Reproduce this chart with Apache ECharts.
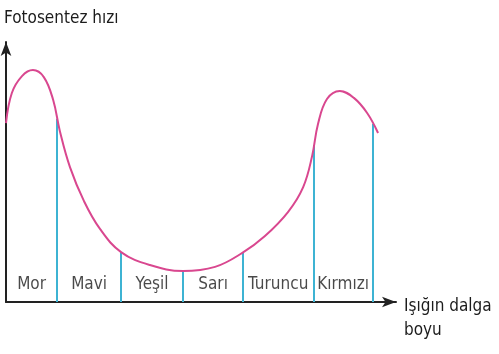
<!DOCTYPE html>
<html>
<head>
<meta charset="utf-8">
<script src="https://cdn.jsdelivr.net/npm/echarts@6/dist/echarts.min.js"></script>
<style>
	html, body { margin: 0; padding: 0; background: #fff; }
	#chart { width: 499px; height: 354px; }
</style>
</head>
<body>
<div id="chart"></div>
<script>
// curve (x: position along wavelength axis 0-100, y: rate 0-100)
const curveX = [0, 1.5, 4.1, 6.9, 9.7, 12.1, 13.8, 16.4, 20.0, 24.1, 29.5, 36.9, 45.4, 53.6, 60.5,
	66.4, 72.3, 76.2, 78.5, 80.0, 82.3, 85.6, 89.2, 92.6, 95.4];
const curveY = [68.8, 80.4, 86.9, 89.2, 86.5, 77.7, 65.8, 51.9, 38.8, 28.1, 19.2, 14.2, 11.9, 13.5, 18.8,
	25.4, 34.6, 44.2, 56.2, 68.5, 78.1, 81.2, 78.5, 72.7, 65.0];

// colour bands
const colorNames = ['Mor', 'Mavi', 'Yeşil', 'Sarı', 'Turuncu', 'Kırmızı'];
const bandEdges = [0, 13.1, 29.5, 45.4, 60.8, 78.8, 94.1];
// heights of the boundary lines (where they meet the curve)
const edgeHeights = [null, 70.5, 19.2, 11.9, 18.8, 60.4, 68.5];

const labelY = 6.6;
const font = '"Liberation Sans Narrow", "DejaVu Sans Condensed", "Open Sans", sans-serif';
const textColor = '#1c1c1c';

const chart = echarts.init(document.getElementById('chart'));

const boundaryLines = [];
for (let i = 1; i < bandEdges.length; i++) {
	boundaryLines.push({ coords: [[bandEdges[i], 0], [bandEdges[i], edgeHeights[i]]] });
}

const bandLabels = colorNames.map((name, i) => ({
	name,
	value: [(bandEdges[i] + bandEdges[i + 1]) / 2, labelY],
}));

chart.setOption({
	backgroundColor: '#fff',
	animation: false,
	grid: { left: 6, right: 103, top: 42, bottom: 52 },
	xAxis: {
		type: 'value',
		min: 0,
		max: 100,
		axisLine: {
			show: true,
			symbol: ['none', 'arrow'],
			symbolSize: [8, 14],
			lineStyle: { color: '#222', width: 2 },
		},
		axisTick: { show: false },
		axisLabel: { show: false },
		splitLine: { show: false },
	},
	yAxis: {
		type: 'value',
		min: 0,
		max: 100,
		axisLine: {
			show: true,
			symbol: ['none', 'arrow'],
			symbolSize: [8, 14],
			lineStyle: { color: '#222', width: 2 },
		},
		axisTick: { show: false },
		axisLabel: { show: false },
		splitLine: { show: false },
	},
	graphic: [
		{
			type: 'text',
			left: 4,
			top: 10,
			style: { text: 'Fotosentez hızı', fill: textColor, font: '17px ' + font },
		},
		{
			type: 'text',
			left: 404,
			top: 295,
			style: { text: 'Işığın dalga\nboyu', fill: textColor, font: '17px ' + font, lineHeight: 24 },
		},
	],
	series: [
		{
			type: 'lines',
			coordinateSystem: 'cartesian2d',
			silent: true,
			lineStyle: { color: '#3eb3d3', width: 2, opacity: 1 },
			data: boundaryLines,
			z: 2,
		},
		{
			type: 'line',
			smooth: 0.4,
			symbol: 'none',
			lineStyle: { color: '#d9478f', width: 2 },
			data: curveX.map((x, i) => [x, curveY[i]]),
			z: 3,
		},
		{
			type: 'scatter',
			symbolSize: 0,
			silent: true,
			label: {
				show: true,
				position: 'inside',
				formatter: '{b}',
				color: textColor,
				fontSize: 17,
				fontFamily: font,
			},
			data: bandLabels,
		},
	],
});
</script>
</body>
</html>
